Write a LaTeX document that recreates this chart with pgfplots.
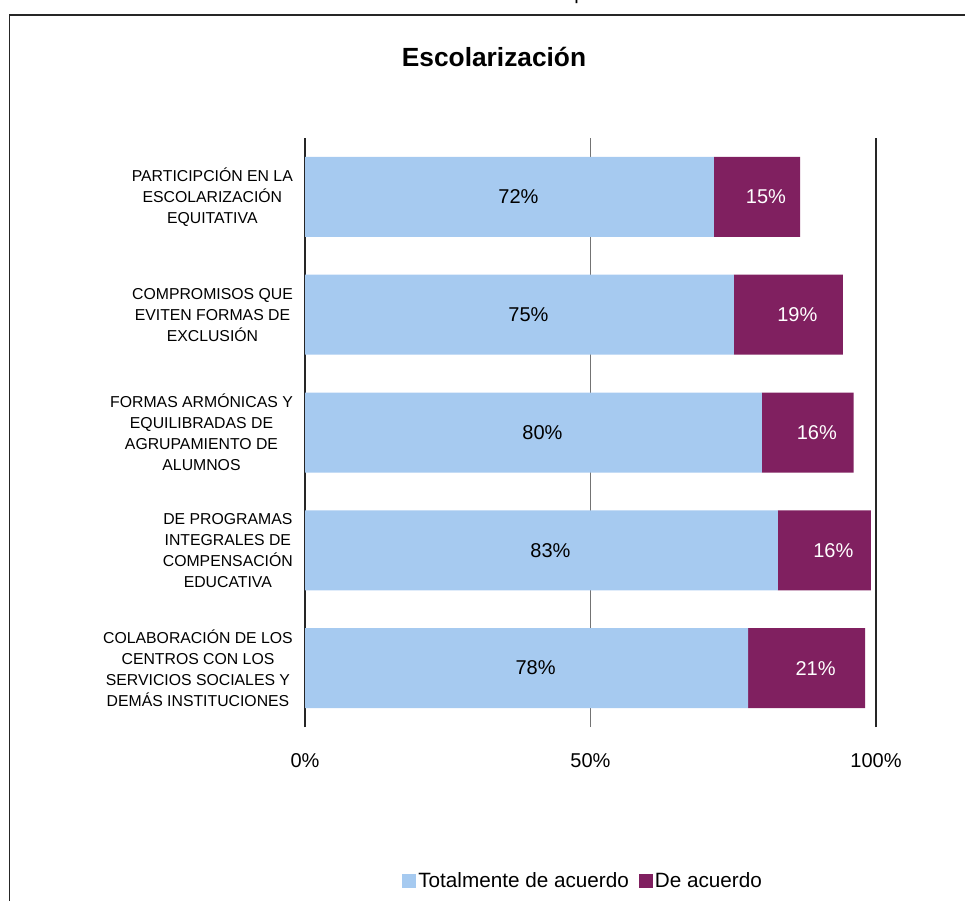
\documentclass[border=0pt]{standalone}
\usepackage{fontspec}
\setmainfont{Liberation Sans}
\usepackage{pgfplots}
\pgfplotsset{compat=1.18}
\definecolor{barBlue}{RGB}{166,202,240}
\definecolor{barPlum}{RGB}{128,32,96}

\begin{document}
\begin{tikzpicture}
\useasboundingbox (0pt,0pt) rectangle (965pt,900pt);
% frame of the chart (right and bottom edges fall outside the picture)
\draw[black!85,line width=1.6pt] (9.5pt,-5pt) -- (9.5pt,885pt) -- (970pt,885pt);
\node[anchor=base,font=\fontsize{20}{24}\selectfont] at (580pt,900.5pt) {p};
\node[font=\fontsize{26.3}{30}\selectfont\bfseries] at (494pt,843pt) {Escolarización};
\begin{axis}[
  at={(305pt,173pt)}, anchor=south west,
  scale only axis, width=571pt, height=589pt,
  xbar stacked, bar width=80pt,
  xmin=0, xmax=100, ymin=0.5, ymax=5.5,
  xtick={0,50,100}, xticklabels={0\%,50\%,100\%},
  extra x ticks={0,100}, extra x tick labels={},
  extra x tick style={grid style={black!85,line width=1.3pt}},
  ytick={1,2,3,4,5},
  yticklabels={
    {COLABORACIÓN DE LOS\\CENTROS CON LOS\\SERVICIOS SOCIALES Y\\DEMÁS INSTITUCIONES},
    {DE PROGRAMAS\\INTEGRALES DE\\COMPENSACIÓN\\EDUCATIVA},
    {FORMAS ARMÓNICAS Y\\EQUILIBRADAS DE\\AGRUPAMIENTO DE\\ALUMNOS},
    {COMPROMISOS QUE\\EVITEN FORMAS DE\\EXCLUSIÓN},
    {PARTICIPCIÓN EN LA\\ESCOLARIZACIÓN\\EQUITATIVA}},
  axis line style={draw=none},
  major tick length=0pt,
  xmajorgrids, grid style={black!55,line width=1.2pt},
  xticklabel style={font=\fontsize{20}{24}\selectfont,anchor=north,inner sep=0pt,yshift=-26pt},
  yticklabel style={font=\fontsize{15.8}{21}\selectfont,align=center,anchor=east,inner sep=0pt,xshift=-12pt},
  point meta=explicit symbolic,
  nodes near coords,
  every node near coord/.append style={font=\fontsize{20}{24}\selectfont,anchor=center,xshift=9pt},
  legend style={at={(0.487,-0.261)},anchor=center,draw=none,legend columns=2,
    font=\fontsize{20.7}{24}\selectfont,
    /tikz/every even column/.append style={column sep=8pt}},
  legend image code/.code={\draw[#1,draw=none] (-1pt,-7pt) rectangle (13pt,7pt);},
]
\addplot[fill=barBlue,draw=none] coordinates {
  (77.6,1) [78\%]
  (82.8,2) [83\%]
  (80.0,3) [80\%]
  (75.1,4) [75\%]
  (71.6,5) [72\%]
};
\addplot[fill=barPlum,draw=none,every node near coord/.append style={white}] coordinates {
  (20.5,1) [21\%]
  (16.3,2) [16\%]
  (16.1,3) [16\%]
  (19.1,4) [19\%]
  (15.1,5) [15\%]
};
\legend{Totalmente de acuerdo,De acuerdo}
\end{axis}
\end{tikzpicture}
\end{document}
